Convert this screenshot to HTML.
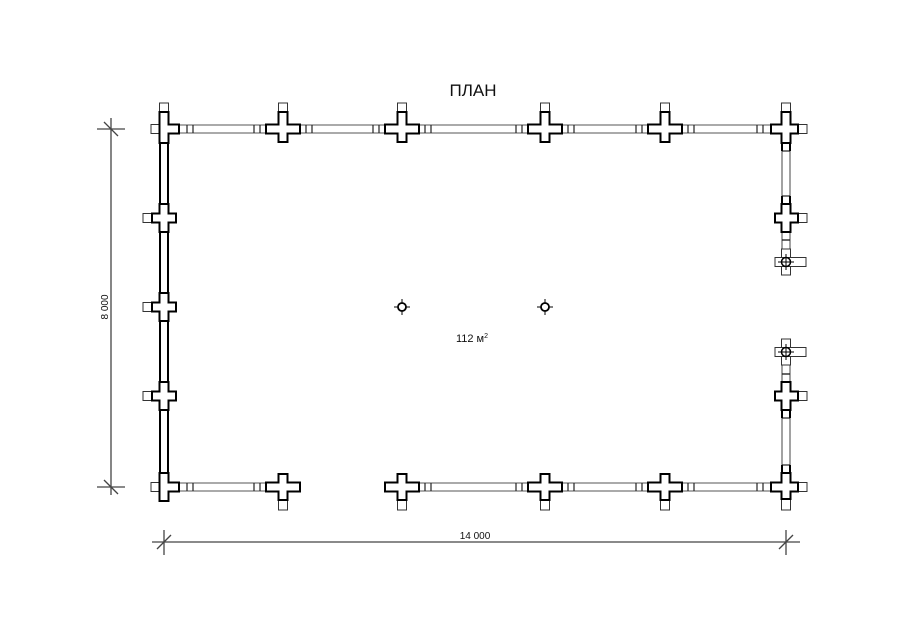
<!DOCTYPE html>
<html><head><meta charset="utf-8"><style>
html,body{margin:0;padding:0;background:#fff;width:900px;height:636px;overflow:hidden}
svg{display:block}
text{font-family:"Liberation Sans",sans-serif;fill:#111}
</style></head><body>
<svg id="s" width="900" height="636" viewBox="0 0 900 636" xmlns="http://www.w3.org/2000/svg">
<g id="g"></g>
<text x="473" y="96" font-size="17" text-anchor="middle">ПЛАН</text>
<text x="472" y="342" font-size="11" text-anchor="middle">112 м<tspan font-size="7" dy="-4">2</tspan></text>
<text x="475" y="539" font-size="10" text-anchor="middle">14 000</text>
<text transform="translate(108,307) rotate(-90)" font-size="10" text-anchor="middle">8 000</text>
<g stroke="#444" stroke-width="1.3">
<line x1="111" y1="118" x2="111" y2="495"/>
<line x1="97" y1="129" x2="125" y2="129"/><line x1="104" y1="122" x2="118" y2="136"/>
<line x1="97" y1="487" x2="125" y2="487"/><line x1="104" y1="480" x2="118" y2="494"/>
<line x1="152" y1="542" x2="800" y2="542"/>
<line x1="164" y1="530" x2="164" y2="555"/><line x1="157" y1="549" x2="171" y2="535"/>
<line x1="786" y1="530" x2="786" y2="555"/><line x1="779" y1="549" x2="793" y2="535"/>
</g>
</svg>
<script>
var g=document.getElementById('g'),h='';
function L(x1,y1,x2,y2,w,c){h+='<line x1="'+x1+'" y1="'+y1+'" x2="'+x2+'" y2="'+y2+'" stroke="'+(c||'#555')+'" stroke-width="'+(w||1.1)+'"/>';}
function R(x,y,w,hh,sw){h+='<rect x="'+x+'" y="'+y+'" width="'+w+'" height="'+hh+'" fill="#fff" stroke="#333" stroke-width="'+(sw||1)+'"/>';}
function HW(x1,x2,y){L(x1,y-4,x2,y-4);L(x1,y+4,x2,y+4);
 [x1+23,x1+29,x2-23,x2-29].forEach(function(x){L(x,y-4,x,y+4,1.2,'#222');});}
function VW(y1,y2,x){L(x-4,y1,x-4,y2);L(x+4,y1,x+4,y2);
 [y1+22,y2-22].forEach(function(y){L(x-4,y,x+4,y,1.2,'#222');});}
function C(cx,cy,l,r,t,b){var a=4.5;
 h+='<path d="M'+(cx-a)+' '+(cy-t)+'H'+(cx+a)+'V'+(cy-a)+'H'+(cx+r)+'V'+(cy+a)+'H'+(cx+a)+'V'+(cy+b)+'H'+(cx-a)+'V'+(cy+a)+'H'+(cx-l)+'V'+(cy-a)+'H'+(cx-a)+'Z" fill="#fff" stroke="#000" stroke-width="2"/>';}
var T=129,B=487,LX=164,RX=786,xs=[164,283,402,545,665,786];
for(var i=0;i<5;i++){HW(xs[i],xs[i+1],T);}
HW(164,283,B);for(i=2;i<5;i++)HW(xs[i],xs[i+1],B);
var ly=[129,218,307,396,487];for(i=0;i<4;i++){L(LX-4,ly[i],LX-4,ly[i+1],2,'#000');L(LX+4,ly[i],LX+4,ly[i+1],2,'#000');}
VW(129,218,RX);VW(396,487,RX);VW(218,262,RX);VW(352,396,RX);
L(RX-4,140,RX-4,151,2,'#000');L(RX+4,140,RX+4,151,2,'#000');
L(RX-4,196,RX-4,206,2,'#000');L(RX+4,196,RX+4,206,2,'#000');
L(RX-4,408,RX-4,418,2,'#000');L(RX+4,408,RX+4,418,2,'#000');
L(RX-4,465,RX-4,476,2,'#000');L(RX+4,465,RX+4,476,2,'#000');
R(159.5,103,9,10);R(151,124.5,9,9);R(159.5,474,9,11);R(151,482.5,9,9);
R(798,124.5,9,9);R(781.5,103,9,10);R(781.5,498,9,12);R(798,482.5,9,9);
[218,307,396].forEach(function(y){R(143,y-4.5,9,9);});
[218,396].forEach(function(y){R(798,y-4.5,9,9);});
xs.slice(1,5).forEach(function(x){R(x-4.5,103,9,10);});
[283,402,545,665].forEach(function(x){R(x-4.5,499,9,11);});
C(LX,T,4.5,15,17,14);C(LX,B,4.5,15,14,14);
C(RX,T,15,12,17,14);C(RX,B,15,12,14,12);
[283,402,545,665].forEach(function(x){C(x,T,17,17,17,13);C(x,B,17,17,13,13);});
[218,307,396].forEach(function(y){C(LX,y,12,12,14,14);});
[218,396].forEach(function(y){C(RX,y,11,12,14,14);});
[262,352].forEach(function(y){R(RX-4.5,y-13,9,26);R(RX-11,y-4.5,31,9);
 h+='<circle cx="'+RX+'" cy="'+y+'" r="4.5" fill="#fff" stroke="#000" stroke-width="1.5"/>';
 L(RX-8,y,RX+8,y,1,'#000');L(RX,y-8,RX,y+8,1,'#000');});
[402,545].forEach(function(x){var y=307;
 h+='<circle cx="'+x+'" cy="'+y+'" r="4" fill="#fff" stroke="#000" stroke-width="1.8"/>';
 L(x-8,y,x-4,y,1,'#000');L(x+4,y,x+8,y,1,'#000');L(x,y-8,x,y-4,1,'#000');L(x,y+4,x,y+8,1,'#000');});
g.innerHTML=h;
</script>
</body></html>
